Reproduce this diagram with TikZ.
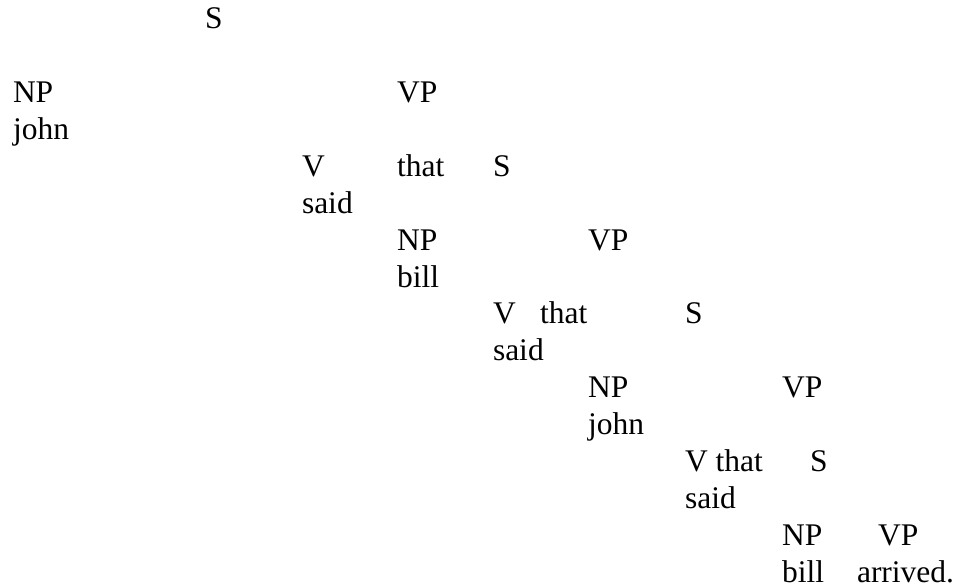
\documentclass[tikz,border=0pt]{standalone}
\usepackage{fontspec}
\setmainfont{Liberation Serif}
\begin{document}
\begin{tikzpicture}[x=1pt,y=1pt,
  lbl/.style={anchor=base west,inner sep=0pt,outer sep=0pt,
    font=\fontsize{31.5}{36.9}\selectfont}]
% page frame
\useasboundingbox (0,0) rectangle (957,-586);
% baseline of row r is 29 + 36.87 r
\def\rowy#1{-(29+36.87*#1)}
% level 0
\node[lbl] (s0) at (205,{\rowy{0}}) {S};
% level 1
\node[lbl] (np1) at (13,{\rowy{2}}) {NP};
\node[lbl] (vp1) at (397,{\rowy{2}}) {VP};
\node[lbl] (john1) at (13,{\rowy{3}}) {john};
\node[lbl] (v1) at (302,{\rowy{4}}) {V};
\node[lbl] (that1) at (397,{\rowy{4}}) {that};
\node[lbl] (s1) at (493,{\rowy{4}}) {S};
\node[lbl] (said1) at (302,{\rowy{5}}) {said};
% level 2
\node[lbl] (np2) at (397,{\rowy{6}}) {NP};
\node[lbl] (vp2) at (588,{\rowy{6}}) {VP};
\node[lbl] (bill2) at (397,{\rowy{7}}) {bill};
\node[lbl] (v2) at (493,{\rowy{8}}) {V};
\node[lbl] (that2) at (540,{\rowy{8}}) {that};
\node[lbl] (s2) at (685,{\rowy{8}}) {S};
\node[lbl] (said2) at (493,{\rowy{9}}) {said};
% level 3
\node[lbl] (np3) at (588,{\rowy{10}}) {NP};
\node[lbl] (vp3) at (782,{\rowy{10}}) {VP};
\node[lbl] (john3) at (588,{\rowy{11}}) {john};
\node[lbl] (v3) at (685,{\rowy{12}}) {V that};
\node[lbl] (s3) at (810,{\rowy{12}}) {S};
\node[lbl] (said3) at (685,{\rowy{13}}) {said};
% level 4
\node[lbl] (np4) at (782,{\rowy{14}}) {NP};
\node[lbl] (vp4) at (878,{\rowy{14}}) {VP};
\node[lbl] (bill4) at (782,{\rowy{15}}) {bill};
\node[lbl] (arr4) at (857,{\rowy{15}}) {arrived.};
\end{tikzpicture}
\end{document}
